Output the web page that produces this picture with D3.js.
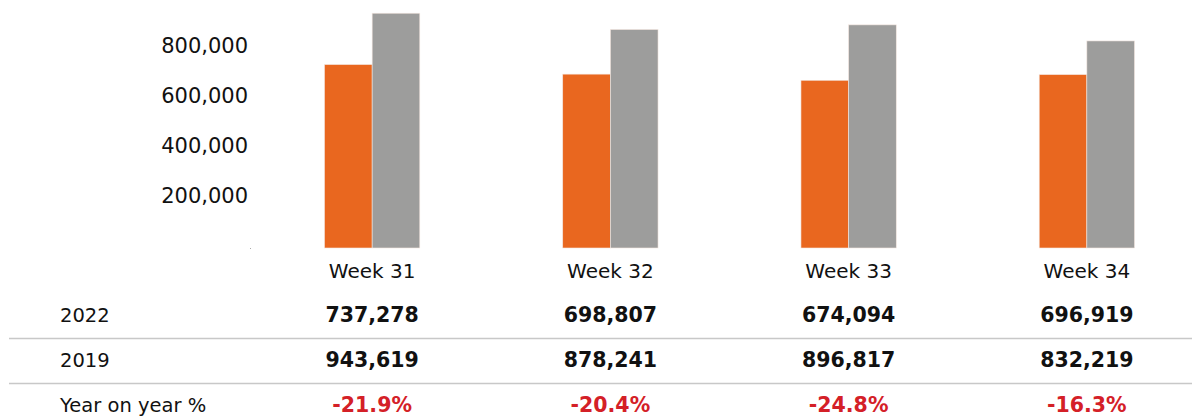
<!DOCTYPE html>
<html>
<head>
<meta charset="utf-8">
<script src="https://cdn.jsdelivr.net/npm/d3@7"></script>
<style>
  body { margin: 0; background: #fff; }
  text { font-family: "DejaVu Sans", sans-serif; }
</style>
</head>
<body>
<svg id="chart" width="1192" height="418"></svg>
<script>
const weeks = ["Week 31", "Week 32", "Week 33", "Week 34"]
const values2022 = [737278, 698807, 674094, 696919]
const values2019 = [943619, 878241, 896817, 832219]
const yoy = ["-21.9%", "-20.4%", "-24.8%", "-16.3%"]
const yTicks = [0, 200000, 400000, 600000, 800000]

const svg = d3.select("#chart")
const baseY = 248

// group bands: ~95px wide, ~238px apart
const x = d3.scaleBand().domain(weeks).range([324.5, 1134.5]).paddingInner(0.6).paddingOuter(0)
const sub = d3.scaleBand().domain(["2022", "2019"]).range([0, x.bandwidth()])
const y = d3.scaleLinear().domain([0, 1000000]).range([baseY, baseY - 248.8])

const colors = { "2022": "#E9671F", "2019": "#9D9D9C" }

// y axis labels only, no axis line
svg.append("g").selectAll("text")
    .data(yTicks.filter(d => d > 0))
    .join("text")
    .attr("x", 248)
    .attr("y", d => y(d) - 1.5)
    .attr("text-anchor", "end")
    .attr("dominant-baseline", "middle")
    .attr("font-size", 21)
    .attr("fill", "#111")
    .text(d => d3.format(",")(d))

svg.append("rect").attr("x", 250).attr("y", y(0)).attr("width", 1).attr("height", 1).attr("fill", "#aaa")

const groups = svg.append("g").selectAll("g")
    .data(weeks)
    .join("g")
    .attr("transform", d => `translate(${x(d)},0)`)

groups.selectAll("rect")
    .data((d, i) => [{ k: "2022", v: values2022[i] }, { k: "2019", v: values2019[i] }])
    .join("rect")
    .attr("x", d => sub(d.k))
    .attr("y", d => y(d.v))
    .attr("width", sub.bandwidth())
    .attr("height", d => y(0) - y(d.v))
    .attr("fill", d => colors[d.k])
    .attr("stroke", "#f3e6df")
    .attr("stroke-width", 0.6)

groups.append("text")
    .attr("x", x.bandwidth() / 2)
    .attr("y", 272)
    .attr("text-anchor", "middle")
    .attr("dominant-baseline", "middle")
    .attr("font-size", 20)
    .attr("fill", "#111")
    .text(d => d)

// table under the chart
const rows = [
    { label: "2022", y: 316, cells: values2022.map(d3.format(",")), color: "#111" },
    { label: "2019", y: 361, cells: values2019.map(d3.format(",")), color: "#111" },
    { label: "Year on year %", y: 406, cells: yoy, color: "#D42027" }
]

svg.append("g").selectAll("line")
    .data([338.5, 383.5])
    .join("line")
    .attr("x1", 9).attr("x2", 1192)
    .attr("y1", d => d).attr("y2", d => d)
    .attr("stroke", "#c8c8c8")
    .attr("stroke-width", 1.5)

rows.forEach(r => {
    svg.append("text")
        .attr("x", 60)
        .attr("y", r.y)
        .attr("dominant-baseline", "middle")
        .attr("font-size", 19.5)
        .attr("fill", "#111")
        .text(r.label)
    svg.append("g").selectAll("text")
        .data(r.cells)
        .join("text")
        .attr("x", (d, i) => x(weeks[i]) + x.bandwidth() / 2)
        .attr("y", r.y)
        .attr("text-anchor", "middle")
        .attr("dominant-baseline", "middle")
        .attr("font-size", 20.5)
        .attr("font-weight", "bold")
        .attr("fill", r.color)
        .text(d => d)
})
</script>
</body>
</html>
